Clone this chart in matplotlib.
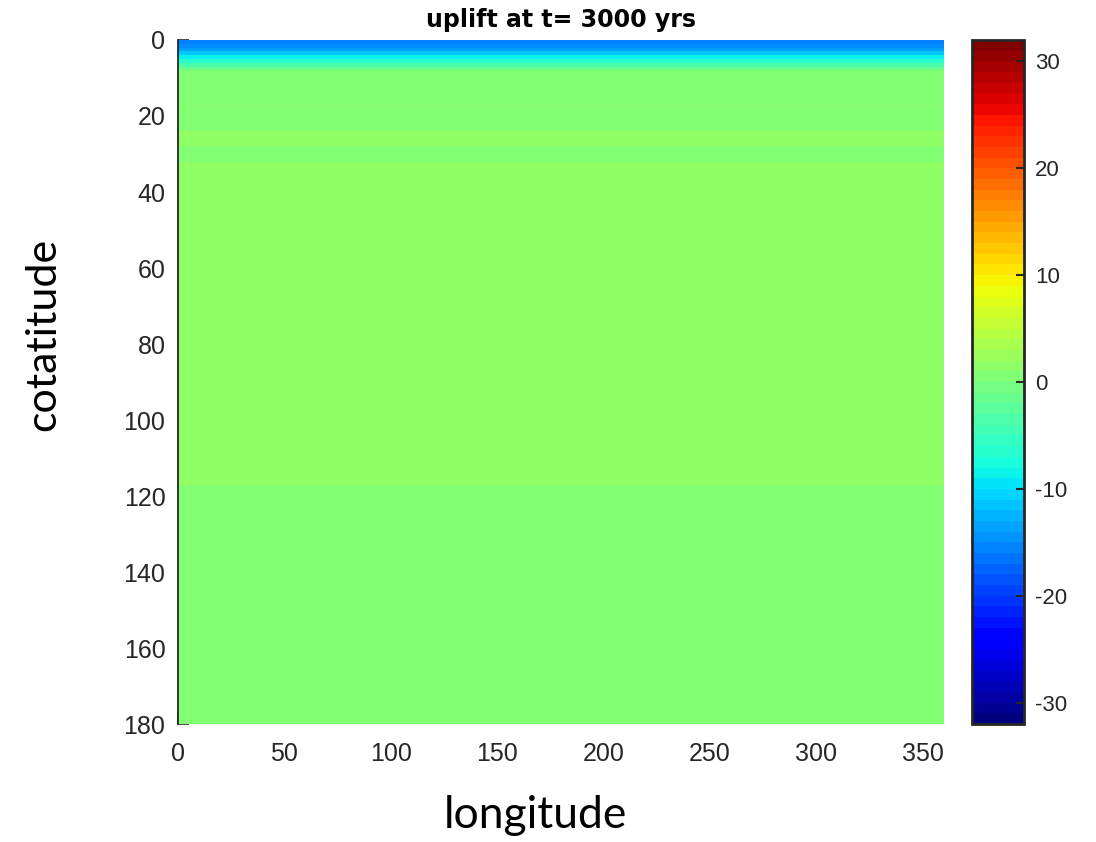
"""Uplift map (cotatitude vs longitude) at t = 3000 yrs, drawn in jet colours."""

import numpy as np
import matplotlib

matplotlib.use("Agg")
import matplotlib.pyplot as plt
from matplotlib.cm import ScalarMappable
from matplotlib.colors import Normalize


# uplift is constant along longitude, so the field is given as cotatitude bands
BAND_EDGES = [0, 1, 2, 3, 4, 5, 6, 7, 8, 17, 18, 24, 28, 32, 117, 180]
BAND_UPLIFT = [-15.8, -15.2, -13.8, -11.5, -9.0, -6.5, -4.0, -1.6,
               0.5, 0.9, 0.5, 1.5, 0.5, 1.5, 0.5]
LON_MAX = 360
CLIM = (-32, 32)
CBAR_TICKS = [-30, -20, -10, 0, 10, 20, 30]
X_TICKS = list(range(0, 351, 50))
Y_TICKS = list(range(0, 181, 20))
TITLE = "uplift at t= 3000 yrs"

TEXT_GRAY = "#262626"
TICK_FONT = ["Liberation Sans", "DejaVu Sans"]
LABEL_FONT = ["Lato", "DejaVu Sans"]


def build_field():
    lon_edges = np.arange(0, LON_MAX + 1, 2.0)
    colat_edges = np.array(BAND_EDGES, dtype=float)
    values = np.repeat(np.array(BAND_UPLIFT)[:, None], len(lon_edges) - 1, axis=1)
    return lon_edges, colat_edges, values


def main():
    plt.rcParams["font.family"] = TICK_FONT
    plt.rcParams["axes.unicode_minus"] = False
    lon_edges, colat_edges, values = build_field()

    fig = plt.figure(figsize=(10.96, 8.42), dpi=100)
    ax = fig.add_axes([0.1624, 0.1401, 0.6989, 0.8124])
    cax = fig.add_axes([0.8869, 0.1401, 0.0474, 0.8124])

    ax.set_axisbelow(True)
    ax.pcolormesh(lon_edges, colat_edges, values, cmap="jet",
                  vmin=CLIM[0], vmax=CLIM[1], shading="flat", zorder=1)
    ax.set_xlim(0, LON_MAX)
    ax.set_ylim(180, 0)
    ax.set_xticks(X_TICKS)
    ax.set_yticks(Y_TICKS)
    ax.tick_params(direction="in", length=8, width=1.2, labelsize=18,
                   labelcolor=TEXT_GRAY, color=TEXT_GRAY)
    ax.tick_params(axis="x", pad=13)
    ax.tick_params(axis="y", pad=9)
    for side in ("top", "right", "bottom"):
        ax.spines[side].set_visible(False)
    ax.spines["left"].set_color(TEXT_GRAY)
    ax.spines["left"].set_linewidth(1.3)

    ax.set_title(TITLE, fontsize=17, fontweight="bold",
                 family=["DejaVu Sans"], pad=9)
    ax.set_xlabel("longitude", fontsize=32, family=LABEL_FONT)
    ax.set_ylabel("cotatitude", fontsize=31, family=LABEL_FONT)
    ax.xaxis.set_label_coords(0.467, -0.133)
    ax.yaxis.set_label_coords(-0.176, 0.569)
    ax.xaxis.label.set_va("center")
    ax.yaxis.label.set_va("center")

    # MATLAB style 64-step colour bar
    sm = ScalarMappable(norm=Normalize(*CLIM), cmap=plt.get_cmap("jet", 64))
    cbar = fig.colorbar(sm, cax=cax, ticks=CBAR_TICKS)
    cbar.outline.set_linewidth(2.0)
    cbar.outline.set_edgecolor(TEXT_GRAY)
    cax.tick_params(direction="in", length=6, width=1.5, labelsize=16,
                    labelcolor=TEXT_GRAY, color=TEXT_GRAY, pad=8)

    fig.savefig("out.png", dpi=100)
    plt.close(fig)


if __name__ == "__main__":
    main()
